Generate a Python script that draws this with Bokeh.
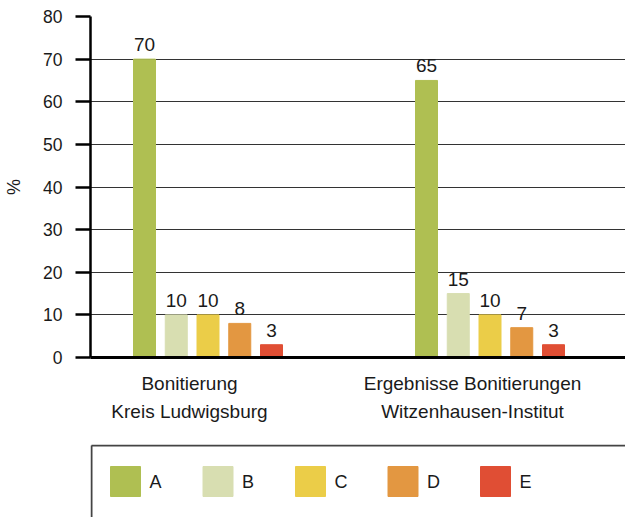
from bokeh.plotting import figure
from bokeh.models import Range1d, FixedTicker, ColumnDataSource, LabelSet
from bokeh.layouts import column
from bokeh.core.properties import value
from bokeh.embed import file_html
from bokeh.resources import INLINE

# ---- data ----
categories = ["A", "B", "C", "D", "E"]
group_labels = ["Bonitierung\nKreis Ludwigsburg",
                "Ergebnisse Bonitierungen\nWitzenhausen-Institut"]
values_ludwigsburg = [70, 10, 10, 8, 3]
values_witzenhausen = [65, 15, 10, 7, 3]
colors = ["#AFBF52", "#D8DEB1", "#EBCD48", "#E39741", "#E04E34"]
y_ticks = [0, 10, 20, 30, 40, 50, 60, 70, 80]

# ---- layout constants (pixels) ----
FONT = "Liberation Sans"
TXT = "#1a1a1a"
GROUP_START = [54, 336]
BAR_STEP = 31.75
BAR_W = 22
LABEL_TICKS = [99, 382]

xs, tops, cols, labs = [], [], [], []
for gs, vals in zip(GROUP_START, [values_ludwigsburg, values_witzenhausen]):
    for i, v in enumerate(vals):
        xs.append(gs + i * BAR_STEP)
        tops.append(v)
        cols.append(colors[i])
        labs.append(str(v))
src = ColumnDataSource(dict(x=xs, top=tops, color=cols, label=labs))

p = figure(width=625, height=444, x_range=Range1d(0, 535), y_range=Range1d(0, 80),
           output_backend="svg", toolbar_location=None,
           min_border_left=90, min_border_right=0, min_border_top=16, min_border_bottom=87)
p.outline_line_color = None

p.vbar(x="x", top="top", width=BAR_W, color="color", source=src)
p.add_layout(LabelSet(x="x", y="top", text="label", source=src, text_align="center",
                      text_baseline="alphabetic", y_offset=8, text_font=value(FONT),
                      text_font_size=value("19px"), text_color=value(TXT)))

# y axis
p.yaxis.ticker = FixedTicker(ticks=y_ticks)
p.yaxis.axis_label = "%"
p.yaxis.axis_label_text_font = FONT
p.yaxis.axis_label_text_font_style = "normal"
p.yaxis.axis_label_text_font_size = "18px"
p.yaxis.axis_label_text_color = TXT
p.yaxis.axis_label_standoff = 16
p.yaxis.major_label_text_font = FONT
p.yaxis.major_label_text_font_size = "17.5px"
p.yaxis.major_label_text_color = TXT
p.yaxis.major_label_standoff = 13
p.yaxis.axis_line_width = 2.5
p.yaxis.axis_line_color = "black"
p.yaxis.major_tick_line_width = 2.5
p.yaxis.major_tick_line_color = "black"
p.yaxis.major_tick_out = 15
p.yaxis.major_tick_in = 0
p.yaxis.minor_tick_line_color = None

# x axis
p.xaxis.ticker = FixedTicker(ticks=LABEL_TICKS)
p.xaxis.major_label_overrides = {t: lab for t, lab in zip(LABEL_TICKS, group_labels)}
p.xaxis.major_label_text_font = FONT
p.xaxis.major_label_text_font_size = "19px"
p.xaxis.major_label_text_color = TXT
p.xaxis.major_label_text_line_height = 1.37
p.xaxis.major_label_standoff = 9
p.xaxis.axis_line_width = 3
p.xaxis.axis_line_color = "black"
p.xaxis.major_tick_line_color = None
p.xaxis.minor_tick_line_color = None

p.xgrid.visible = False
p.ygrid.ticker = FixedTicker(ticks=y_ticks)
p.ygrid.grid_line_color = "#333333"
p.ygrid.grid_line_width = 1

# ---- legend panel (x in page pixels, y = pixels above bottom) ----
lf = figure(width=625, height=73, x_range=Range1d(90, 625), y_range=Range1d(0, 73),
            output_backend="svg", toolbar_location=None,
            x_axis_location=None, y_axis_location=None,
            min_border_left=90, min_border_right=0, min_border_top=0, min_border_bottom=0)
lf.outline_line_color = None
lf.xgrid.visible = False
lf.ygrid.visible = False

SW_X0, SW_STEP, SW_Y, SW = 125, 92.5, 36, 30
sw_x = [SW_X0 + i * SW_STEP for i in range(len(categories))]
lsrc = ColumnDataSource(dict(x=sw_x, lx=[x + 24 for x in sw_x], y=[SW_Y] * len(categories),
                             color=colors, label=categories))
lf.rect(x="x", y="y", width=SW, height=SW, color="color", source=lsrc)
lf.text(x="lx", y="y", text="label", source=lsrc, text_baseline="middle",
        text_font=value(FONT), text_font_size="18px", text_color=TXT)
lf.segment(x0=[91, 91], y0=[72, 72], x1=[625, 91], y1=[72, 0],
           line_color="#444444", line_width=2)

layout = column(p, lf, spacing=0)
open("out.html", "w").write(file_html(layout, INLINE))
